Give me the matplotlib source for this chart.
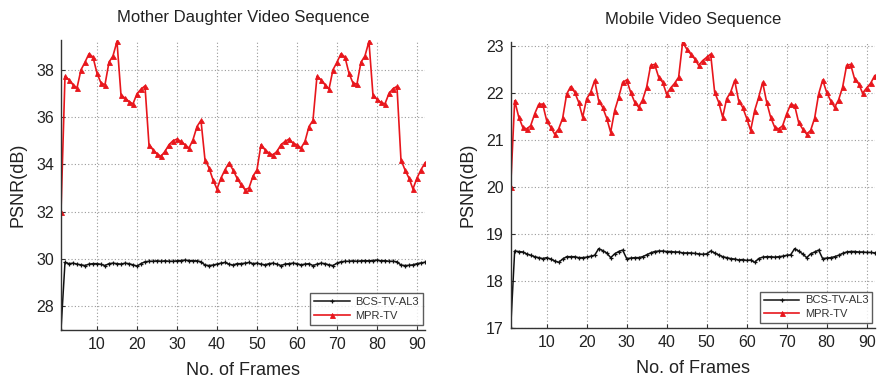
import numpy as np
import matplotlib
matplotlib.use("Agg")
import matplotlib.pyplot as plt

plt.rcParams['font.family'] = ['Liberation Sans', 'DejaVu Sans']

frames = list(range(1, 93))

md_bcs = [27.0, 29.85, 29.8, 29.82, 29.78, 29.75, 29.72, 29.78, 29.8, 29.8,
          29.77, 29.72, 29.8, 29.82, 29.8, 29.78, 29.82, 29.8, 29.75, 29.7,
          29.8, 29.88, 29.9, 29.9, 29.92, 29.9, 29.92, 29.9, 29.9, 29.92,
          29.93, 29.95, 29.93, 29.92, 29.92, 29.88, 29.74, 29.72, 29.74, 29.78,
          29.82, 29.85, 29.78, 29.74, 29.8, 29.8, 29.82, 29.85, 29.8, 29.82,
          29.78, 29.75, 29.8, 29.82, 29.78, 29.72, 29.78, 29.8, 29.82, 29.8,
          29.75, 29.78, 29.8, 29.72, 29.78, 29.82, 29.8, 29.75, 29.72, 29.82,
          29.88, 29.9, 29.9, 29.92, 29.9, 29.92, 29.93, 29.92, 29.93, 29.95,
          29.92, 29.93, 29.9, 29.9, 29.88, 29.74, 29.72, 29.73, 29.75, 29.8,
          29.83, 29.86]

md_mpr = [32.0, 37.72, 37.58, 37.37, 37.23, 38.0, 38.32, 38.68, 38.54, 37.86,
          37.44, 37.37, 38.32, 38.59, 39.2, 36.94, 36.8, 36.66, 36.56, 36.99,
          37.18, 37.32, 34.83, 34.62, 34.45, 34.34, 34.55, 34.83, 35.0, 35.07,
          34.97, 34.83, 34.69, 35.04, 35.6, 35.86, 34.2, 33.85, 33.35, 32.96,
          33.42, 33.77, 34.06, 33.77, 33.42, 33.15, 32.93, 33.0, 33.5, 33.77,
          34.83, 34.62, 34.48, 34.4, 34.55, 34.83, 34.97, 35.07, 34.9, 34.83,
          34.69, 34.97, 35.6, 35.86, 37.72, 37.58, 37.37, 37.18, 38.0, 38.32,
          38.68, 38.54, 37.86, 37.44, 37.4, 38.32, 38.59, 39.2, 36.94, 36.75,
          36.62, 36.56, 37.0, 37.2, 37.3, 34.2, 33.77, 33.42, 32.96, 33.42,
          33.77, 34.06]

mob_bcs = [17.0, 18.64, 18.63, 18.62, 18.58, 18.55, 18.52, 18.5, 18.48, 18.5,
           18.47, 18.43, 18.4, 18.47, 18.52, 18.52, 18.52, 18.5, 18.5, 18.51,
           18.53, 18.55, 18.69, 18.65, 18.6, 18.5, 18.58, 18.63, 18.66, 18.48,
           18.49, 18.5, 18.5, 18.52, 18.56, 18.6, 18.63, 18.64, 18.64, 18.63,
           18.63, 18.62, 18.62, 18.6, 18.6, 18.6, 18.59, 18.58, 18.57, 18.58,
           18.64, 18.6, 18.56, 18.52, 18.5, 18.48, 18.47, 18.45, 18.46, 18.44,
           18.45, 18.4, 18.48, 18.51, 18.52, 18.52, 18.51, 18.52, 18.53, 18.55,
           18.56, 18.69, 18.64, 18.58, 18.5, 18.58, 18.62, 18.66, 18.48, 18.49,
           18.5, 18.52, 18.55, 18.59, 18.62, 18.63, 18.63, 18.62, 18.62, 18.61,
           18.61, 18.6]

mob_mpr = [20.0, 21.83, 21.49, 21.27, 21.23, 21.3, 21.55, 21.75, 21.76, 21.41,
           21.27, 21.12, 21.23, 21.46, 21.97, 22.13, 22.01, 21.8, 21.48, 21.87,
           22.01, 22.26, 21.83, 21.69, 21.46, 21.16, 21.62, 21.9, 22.22, 22.27,
           22.01, 21.8, 21.69, 21.85, 22.12, 22.58, 22.6, 22.33, 22.22, 21.97,
           22.1, 22.2, 22.33, 23.07, 22.93, 22.82, 22.72, 22.58, 22.68, 22.75,
           22.82, 22.01, 21.8, 21.48, 21.87, 22.01, 22.26, 21.83, 21.69, 21.46,
           21.2, 21.62, 21.9, 22.22, 21.8, 21.48, 21.27, 21.23, 21.3, 21.55,
           21.75, 21.73, 21.37, 21.23, 21.12, 21.2, 21.46, 21.97, 22.27, 22.01,
           21.83, 21.69, 21.85, 22.12, 22.58, 22.6, 22.29, 22.19, 21.99, 22.1,
           22.2, 22.36]

titles = ["Mother Daughter Video Sequence", "Mobile Video Sequence"]
series_names = ["BCS-TV-AL3", "MPR-TV"]
x_ticks = [10, 20, 30, 40, 50, 60, 70, 80, 90]
md_yticks = [28, 30, 32, 34, 36, 38]
mob_yticks = [17, 18, 19, 20, 21, 22, 23]

fig = plt.figure(figsize=(8.8, 3.8), dpi=100)
ax1 = fig.add_axes([0.0693, 0.132, 0.4136, 0.762])
ax2 = fig.add_axes([0.5803, 0.136, 0.4136, 0.754])

axis_col = '#333333'
red = '#e8161c'
blk = '#111111'

panels = [
    (ax1, md_bcs, md_mpr, titles[0], md_yticks, (27, 39.25)),
    (ax2, mob_bcs, mob_mpr, titles[1], mob_yticks, (17, 23.08)),
]

for ax, bcs, mpr, title, yt, ylim in panels:
    ax.plot(frames, bcs, color=blk, lw=1.1, marker='+', ms=3.5, mew=0.9,
            label=series_names[0])
    ax.plot(frames, mpr, color=red, lw=1.2, marker='^', ms=3.6, mew=0.6,
            label=series_names[1])
    ax.set_xlim(1, 92)
    ax.set_ylim(*ylim)
    ax.set_xticks(x_ticks)
    ax.set_yticks(yt)
    ax.grid(True, linestyle=(0, (1, 2)), color='#9a9a9a', lw=0.8)
    for s in ['top', 'right']:
        ax.spines[s].set_visible(False)
    for s in ['left', 'bottom']:
        ax.spines[s].set_color(axis_col)
        ax.spines[s].set_linewidth(1.0)
    ax.tick_params(direction='in', length=3, colors=axis_col,
                   labelsize=11.5, labelcolor='#222222', pad=5)
    ax.set_title(title, fontsize=12, color='#222222', pad=13)
    ax.set_xlabel("No. of Frames", fontsize=13, color='#222222', labelpad=7)
    ax.set_ylabel("PSNR(dB)", fontsize=13, color='#222222', labelpad=7)
    leg = ax.legend(loc='lower right', bbox_to_anchor=(1.0, 0.01),
                    fontsize=8, frameon=True, fancybox=False,
                    handlelength=3.2, borderpad=0.35, labelspacing=0.35,
                    handletextpad=0.5, borderaxespad=0.2)
    leg.get_frame().set_edgecolor('#333333')
    leg.get_frame().set_linewidth(1.0)
    for t in leg.get_texts():
        t.set_color('#333333')

fig.savefig("out.png", dpi=100, facecolor='white')
